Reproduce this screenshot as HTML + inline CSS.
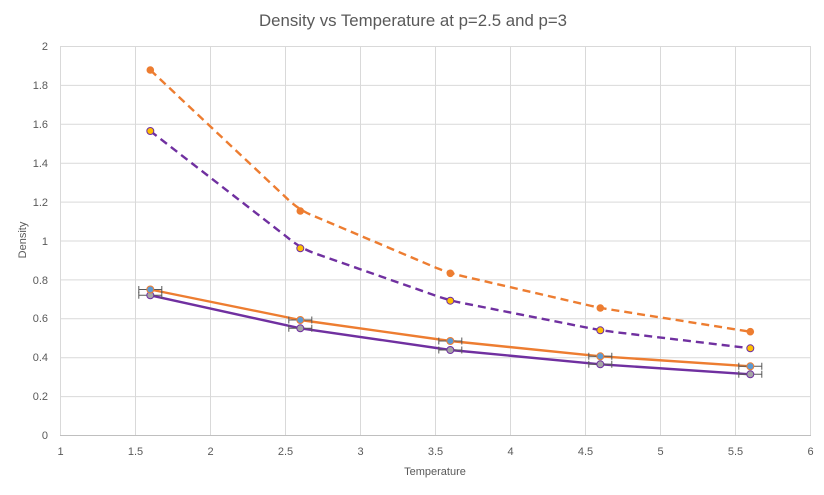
<!DOCTYPE html>
<html><head><meta charset="utf-8"><style>
html,body{margin:0;padding:0;background:#fff;}
svg{display:block;}
text{font-family:"Liberation Sans",sans-serif;fill:#595959;}
</style></head><body>
<svg width="824" height="495" viewBox="0 0 824 495" xmlns="http://www.w3.org/2000/svg">
<rect width="824" height="495" fill="#fff"/>
<text x="413" y="26" font-size="16.5" text-anchor="middle" textLength="308" lengthAdjust="spacingAndGlyphs">Density vs Temperature at p=2.5 and p=3</text>
<g stroke="#d9d9d9" stroke-width="1">
<line x1="60.5" y1="46.5" x2="810.5" y2="46.5"/>
<line x1="60.5" y1="85.4" x2="810.5" y2="85.4"/>
<line x1="60.5" y1="124.3" x2="810.5" y2="124.3"/>
<line x1="60.5" y1="163.2" x2="810.5" y2="163.2"/>
<line x1="60.5" y1="202.1" x2="810.5" y2="202.1"/>
<line x1="60.5" y1="241" x2="810.5" y2="241"/>
<line x1="60.5" y1="279.9" x2="810.5" y2="279.9"/>
<line x1="60.5" y1="318.8" x2="810.5" y2="318.8"/>
<line x1="60.5" y1="357.7" x2="810.5" y2="357.7"/>
<line x1="60.5" y1="396.6" x2="810.5" y2="396.6"/>
<line x1="60.5" y1="46" x2="60.5" y2="435"/>
<line x1="135.5" y1="46" x2="135.5" y2="435"/>
<line x1="210.5" y1="46" x2="210.5" y2="435"/>
<line x1="285.5" y1="46" x2="285.5" y2="435"/>
<line x1="360.5" y1="46" x2="360.5" y2="435"/>
<line x1="435.5" y1="46" x2="435.5" y2="435"/>
<line x1="510.5" y1="46" x2="510.5" y2="435"/>
<line x1="585.5" y1="46" x2="585.5" y2="435"/>
<line x1="660.5" y1="46" x2="660.5" y2="435"/>
<line x1="735.5" y1="46" x2="735.5" y2="435"/>
<line x1="810.5" y1="46" x2="810.5" y2="435"/>
</g>
<line x1="60" y1="435.5" x2="811" y2="435.5" stroke="#bfbfbf" stroke-width="1"/>
<g font-size="11" text-anchor="end">
<text x="48" y="439">0</text>
<text x="48" y="400">0.2</text>
<text x="48" y="361">0.4</text>
<text x="48" y="322">0.6</text>
<text x="48" y="284">0.8</text>
<text x="48" y="245">1</text>
<text x="48" y="206">1.2</text>
<text x="48" y="167">1.4</text>
<text x="48" y="128">1.6</text>
<text x="48" y="89">1.8</text>
<text x="48" y="50">2</text>
</g>
<g font-size="11" text-anchor="middle">
<text x="60.5" y="455">1</text>
<text x="135.5" y="455">1.5</text>
<text x="210.5" y="455">2</text>
<text x="285.5" y="455">2.5</text>
<text x="360.5" y="455">3</text>
<text x="435.5" y="455">3.5</text>
<text x="510.5" y="455">4</text>
<text x="585.5" y="455">4.5</text>
<text x="660.5" y="455">5</text>
<text x="735.5" y="455">5.5</text>
<text x="810.5" y="455">6</text>
<text x="435" y="475">Temperature</text>
<text transform="translate(26,240) rotate(-90)">Density</text>
</g>
<g fill="none" stroke-width="2.4" stroke-linecap="butt" stroke-linejoin="round">
<path d="M150.3,70 L288.3,199.7 Q300.3,211 315.3,216.6 L437.3,268.3 Q450.3,273.3 463.3,276.3 L587.3,305 Q600.3,308 613.3,310 L750.3,331.7" stroke="#ED7D31" stroke-dasharray="8,5"/>
<path d="M150.3,131 L287.3,237.3 Q300.3,248.3 315.3,253.5 L437.3,296.2 Q450.3,300.7 463.3,303.2 L587.3,327.7 Q600.3,330.3 613.3,331.9 L750.3,348.3" stroke="#7030A0" stroke-dasharray="8,5"/>
<path d="M150.3,295.3 L300.3,328.3 L450.3,350 L600.3,364.3 L750.3,374.3" stroke="#7030A0"/>
<path d="M150.3,289.5 L300.3,320 L450.3,341 L600.3,356.3 L750.3,366.3" stroke="#ED7D31"/>
</g>
<g stroke="#595959" stroke-width="1" fill="none">
<path d="M138.8,289.5H161.8M138.8,286V293M161.8,286V293"/>
<path d="M138.8,295.3H161.8M138.8,291.8V298.8M161.8,291.8V298.8"/>
<path d="M288.8,320H311.8M288.8,316.5V323.5M311.8,316.5V323.5"/>
<path d="M288.8,328.3H311.8M288.8,324.8V331.8M311.8,324.8V331.8"/>
<path d="M438.8,341H461.8M438.8,337.5V344.5M461.8,337.5V344.5"/>
<path d="M438.8,350H461.8M438.8,346.5V353.5M461.8,346.5V353.5"/>
<path d="M588.8,356.3H611.8M588.8,352.8V359.8M611.8,352.8V359.8"/>
<path d="M588.8,364.3H611.8M588.8,360.8V367.8M611.8,360.8V367.8"/>
<path d="M738.8,366.3H761.8M738.8,362.8V369.8M761.8,362.8V369.8"/>
<path d="M738.8,374.3H761.8M738.8,370.8V377.8M761.8,370.8V377.8"/>
</g>
<g fill="#ED7D31">
<circle cx="150.3" cy="70" r="3.8"/>
<circle cx="300.3" cy="211" r="3.8"/>
<circle cx="450.3" cy="273.3" r="3.8"/>
<circle cx="600.3" cy="308" r="3.8"/>
<circle cx="750.3" cy="331.7" r="3.8"/>
</g>
<g fill="#FFC000" stroke="#7030A0" stroke-width="1">
<circle cx="150.3" cy="131" r="3.5"/>
<circle cx="300.3" cy="248.3" r="3.5"/>
<circle cx="450.3" cy="300.7" r="3.5"/>
<circle cx="600.3" cy="330.3" r="3.5"/>
<circle cx="750.3" cy="348.3" r="3.5"/>
</g>
<g fill="#A5A5A5" stroke="#7030A0" stroke-width="1">
<circle cx="150.3" cy="295.3" r="3.5"/>
<circle cx="300.3" cy="328.3" r="3.5"/>
<circle cx="450.3" cy="350" r="3.5"/>
<circle cx="600.3" cy="364.3" r="3.5"/>
<circle cx="750.3" cy="374.3" r="3.5"/>
</g>
<g fill="#5B9BD5" stroke="#ED7D31" stroke-width="1">
<circle cx="150.3" cy="289.5" r="3.5"/>
<circle cx="300.3" cy="320" r="3.5"/>
<circle cx="450.3" cy="341" r="3.5"/>
<circle cx="600.3" cy="356.3" r="3.5"/>
<circle cx="750.3" cy="366.3" r="3.5"/>
</g>
</svg>
</body></html>
